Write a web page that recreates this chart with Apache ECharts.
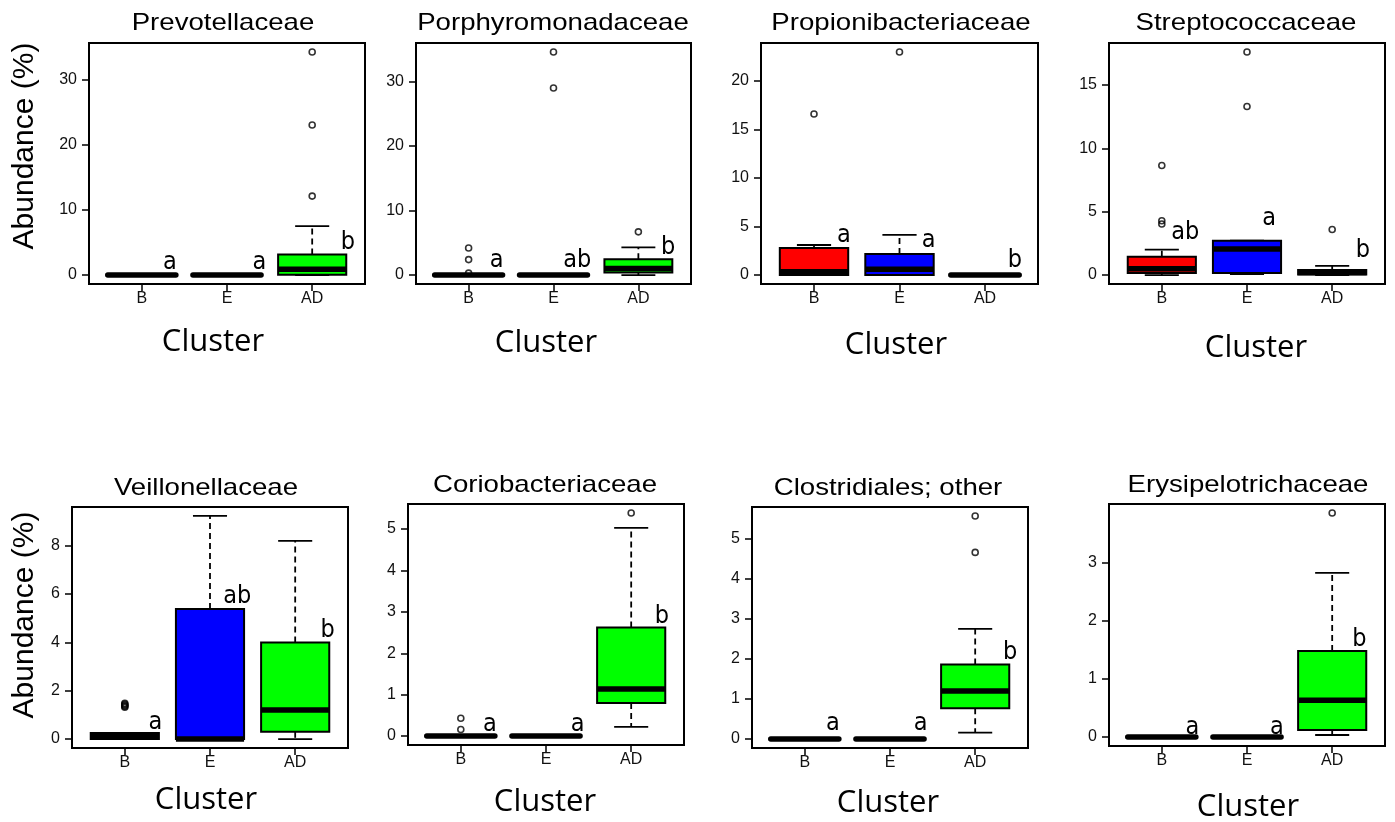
<!DOCTYPE html>
<html>
<head>
<meta charset="utf-8">
<title>Family abundance by cluster</title>
<script src="https://cdn.jsdelivr.net/npm/echarts@6/dist/echarts.min.js"></script>
<style>
  html, body { margin: 0; padding: 0; background: #fff; }
  #chart { width: 1395px; height: 822px; }
</style>
</head>
<body>
<div id="chart"></div>
<script>
// Clusters on the x axis and their box fills
const groups = ['B', 'E', 'AD'];
const boxFill = ['#FF0000', '#0000FF', '#00FF00'];

const families = ['Prevotellaceae', 'Porphyromonadaceae', 'Propionibacteriaceae', 'Streptococcaceae',
                  'Veillonellaceae', 'Coriobacteriaceae', 'Clostridiales; other', 'Erysipelotrichaceae'];

// Box summaries per cluster: [lower whisker, Q1, median, Q3, upper whisker] (abundance, %)
const prevotellaceaeStats = [[0, 0, 0, 0, 0], [0, 0, 0, 0, 0], [0, 0.05, 0.9, 3.15, 7.5]];
const porphyromonadaceaeStats = [[0, 0, 0, 0, 0], [0, 0, 0, 0, 0], [0, 0.4, 1.0, 2.45, 4.3]];
const propionibacteriaceaeStats = [[0, 0, 0.35, 2.8, 3.1], [0, 0, 0.6, 2.17, 4.14], [0, 0, 0, 0, 0]];
const streptococcaceaeStats = [[0, 0.16, 0.5, 1.45, 2.0], [0.08, 0.16, 2.06, 2.71, 2.71], [0, 0.05, 0.2, 0.4, 0.73]];
const veillonellaceaeStats = [[0, 0, 0.1, 0.25, 0.25], [0, 0, 0, 5.38, 9.23], [0, 0.3, 1.2, 3.99, 8.2]];
const coriobacteriaceaeStats = [[0, 0, 0, 0, 0], [0, 0, 0, 0, 0], [0.22, 0.8, 1.14, 2.62, 5.03]];
const clostridialesStats = [[0, 0, 0, 0, 0], [0, 0, 0, 0, 0], [0.16, 0.77, 1.2, 1.86, 2.75]];
const erysipelotrichaceaeStats = [[0, 0, 0, 0, 0], [0, 0, 0, 0, 0], [0.035, 0.12, 0.63, 1.48, 2.82]];

// Points beyond the whiskers, per cluster
const prevotellaceaeOutliers = [[], [], [12.1, 23.0, 34.2]];
const porphyromonadaceaeOutliers = [[0.3, 2.4, 4.2], [29.0, 34.6], [6.7]];
const propionibacteriaceaeOutliers = [[16.6], [23.0], []];
const streptococcaceaeOutliers = [[4.03, 4.29, 8.64], [13.3, 17.6], [3.6]];
const veillonellaceaeOutliers = [[1.32, 1.36, 1.40, 1.44, 1.48], [], []];
const coriobacteriaceaeOutliers = [[0.16, 0.43], [], [5.39]];
const clostridialesOutliers = [[], [], [4.66, 5.57]];
const erysipelotrichaceaeOutliers = [[], [], [3.85]];

// Significance letters and their anchor points [cluster position, abundance]
const prevotellaceaeLetters = ['a', 'a', 'b'];
const porphyromonadaceaeLetters = ['a', 'ab', 'b'];
const propionibacteriaceaeLetters = ['a', 'a', 'b'];
const streptococcaceaeLetters = ['ab', 'a', 'b'];
const veillonellaceaeLetters = ['a', 'ab', 'b'];
const coriobacteriaceaeLetters = ['a', 'a', 'b'];
const clostridialesLetters = ['a', 'a', 'b'];
const erysipelotrichaceaeLetters = ['a', 'a', 'b'];

const prevotellaceaeLetterAt = [[1.33, 1.94], [2.38, 1.94], [3.42, 5.05]];
const porphyromonadaceaeLetterAt = [[1.33, 2.22], [2.28, 2.22], [3.35, 4.29]];
const propionibacteriaceaeLetterAt = [[1.35, 4.07], [2.34, 3.55], [3.35, 1.48]];
const streptococcaceaeLetterAt = [[1.275, 3.37], [2.26, 4.43], [3.36, 1.92]];
const veillonellaceaeLetterAt = [[1.36, 0.69], [2.32, 5.89], [3.38, 4.51]];
const coriobacteriaceaeLetterAt = [[1.34, 0.28], [2.37, 0.28], [3.36, 2.88]];
const clostridialesLetterAt = [[1.33, 0.39], [2.36, 0.39], [3.41, 2.15]];
const erysipelotrichaceaeLetterAt = [[1.36, 0.17], [2.35, 0.17], [3.32, 1.68]];

// Y tick values per panel
const prevotellaceaeTicks = [0, 10, 20, 30];
const porphyromonadaceaeTicks = [0, 10, 20, 30];
const propionibacteriaceaeTicks = [0, 5, 10, 15, 20];
const streptococcaceaeTicks = [0, 5, 10, 15];
const veillonellaceaeTicks = [0, 2, 4, 6, 8];
const coriobacteriaceaeTicks = [0, 1, 2, 3, 4, 5];
const clostridialesTicks = [0, 1, 2, 3, 4, 5];
const erysipelotrichaceaeTicks = [0, 1, 2, 3];

const panels = [
  { stats: prevotellaceaeStats, outliers: prevotellaceaeOutliers, letters: prevotellaceaeLetters, letterAt: prevotellaceaeLetterAt, ticks: prevotellaceaeTicks },
  { stats: porphyromonadaceaeStats, outliers: porphyromonadaceaeOutliers, letters: porphyromonadaceaeLetters, letterAt: porphyromonadaceaeLetterAt, ticks: porphyromonadaceaeTicks },
  { stats: propionibacteriaceaeStats, outliers: propionibacteriaceaeOutliers, letters: propionibacteriaceaeLetters, letterAt: propionibacteriaceaeLetterAt, ticks: propionibacteriaceaeTicks },
  { stats: streptococcaceaeStats, outliers: streptococcaceaeOutliers, letters: streptococcaceaeLetters, letterAt: streptococcaceaeLetterAt, ticks: streptococcaceaeTicks },
  { stats: veillonellaceaeStats, outliers: veillonellaceaeOutliers, letters: veillonellaceaeLetters, letterAt: veillonellaceaeLetterAt, ticks: veillonellaceaeTicks },
  { stats: coriobacteriaceaeStats, outliers: coriobacteriaceaeOutliers, letters: coriobacteriaceaeLetters, letterAt: coriobacteriaceaeLetterAt, ticks: coriobacteriaceaeTicks },
  { stats: clostridialesStats, outliers: clostridialesOutliers, letters: clostridialesLetters, letterAt: clostridialesLetterAt, ticks: clostridialesTicks },
  { stats: erysipelotrichaceaeStats, outliers: erysipelotrichaceaeOutliers, letters: erysipelotrichaceaeLetters, letterAt: erysipelotrichaceaeLetterAt, ticks: erysipelotrichaceaeTicks }
];

// Page layout: plot rectangles [left, top, width, height] and text anchors
const gridRects = [
  [89, 43, 276, 241], [416, 43, 275, 241], [761, 43, 277, 241], [1109, 43, 276, 241],
  [72, 507, 276, 241], [408, 504, 276, 241], [752, 507, 276, 241], [1109, 504, 276, 242]
];
const titleAt = [[223, 23], [553, 23], [901, 23], [1246, 23], [206, 488], [545, 485], [888, 488], [1248, 485]];
const clusterAt = [[213, 342], [546, 343], [896, 345], [1256, 348], [206, 800], [545, 802], [888, 803], [1248, 807]];
const yTitleAt = [[25, 146], [25, 615]];

const BOX_HALF = 0.4;
const CAP_HALF = 0.2;
const FONT = '"Liberation Sans", Arial, Helvetica, sans-serif';

// R-style padded ranges (4% on each side)
function paddedRange(lo, hi) {
  const d = hi - lo;
  return [lo - 0.04 * d, hi + 0.04 * d];
}

function boxRenderer(stats) {
  return function (params, api) {
    const i = params.dataIndex;
    const s = stats[i];
    const lw = s[0], q1 = s[1], med = s[2], q3 = s[3], uw = s[4];
    const x = i + 1;
    const P = (a, b) => api.coord([a, b]);
    const children = [];
    const dashed = { stroke: '#000', lineWidth: 1.8, lineDash: [6, 4], fill: null };
    const solid = { stroke: '#000', lineWidth: 1.8, fill: null };
    const seg = (a, b, style) => ({ type: 'line', shape: { x1: a[0], y1: a[1], x2: b[0], y2: b[1] }, style: style });
    if (uw > q3) children.push(seg(P(x, q3), P(x, uw), dashed));
    if (lw < q1) children.push(seg(P(x, q1), P(x, lw), dashed));
    children.push(seg(P(x - CAP_HALF, uw), P(x + CAP_HALF, uw), solid));
    children.push(seg(P(x - CAP_HALF, lw), P(x + CAP_HALF, lw), solid));
    const tl = P(x - BOX_HALF, q3), br = P(x + BOX_HALF, q1);
    children.push({
      type: 'rect',
      shape: { x: tl[0], y: tl[1], width: br[0] - tl[0], height: br[1] - tl[1] },
      style: { fill: boxFill[i], stroke: '#000', lineWidth: 2 }
    });
    // collapsed boxes show as a bar with rounded ends; otherwise the median stays inside the box
    const collapsed = q3 - q1 <= 0;
    children.push(seg(P(x - BOX_HALF, med), P(x + BOX_HALF, med),
      { stroke: '#000', lineWidth: 5.5, lineCap: collapsed ? 'round' : 'butt', fill: null }));
    return { type: 'group', children: children };
  };
}

function letterRenderer(letters) {
  return function (params, api) {
    const p = api.coord([api.value(0), api.value(1)]);
    return {
      type: 'text',
      x: p[0], y: p[1],
      style: {
        text: letters[params.dataIndex],
        font: '25px "Liberation Sans Narrow", "DejaVu Sans Condensed", "Liberation Sans", sans-serif',
        fill: '#000',
        align: 'center', verticalAlign: 'middle',
        textAlign: 'center', textVerticalAlign: 'middle'
      }
    };
  };
}

const grid = [], xAxis = [], yAxis = [], series = [];
const xRange = paddedRange(0.5, groups.length + 0.5);

panels.forEach((pn, k) => {
  const r = gridRects[k];
  grid.push({
    left: r[0], top: r[1], width: r[2], height: r[3],
    show: true, borderColor: '#000', borderWidth: 2, backgroundColor: 'transparent',
    containLabel: false, outerBoundsMode: 'none'
  });

  const values = [];
  pn.stats.forEach(s => values.push(...s));
  pn.outliers.forEach(o => values.push(...o));
  const yRange = paddedRange(Math.min(...values), Math.max(...values));

  xAxis.push({
    type: 'value', gridIndex: k, min: xRange[0], max: xRange[1], position: 'bottom',
    axisLine: { show: true, onZero: false, lineStyle: { color: '#000', width: 2 } },
    axisTick: { show: true, customValues: [1, 2, 3], length: 7, lineStyle: { color: '#000', width: 1.5 } },
    axisLabel: {
      show: true, customValues: [1, 2, 3], margin: 7,
      formatter: v => groups[Math.round(v) - 1],
      fontFamily: FONT, fontSize: 16, color: '#111'
    },
    splitLine: { show: false }
  });

  yAxis.push({
    type: 'value', gridIndex: k, min: yRange[0], max: yRange[1], position: 'left',
    axisLine: { show: true, onZero: false, lineStyle: { color: '#000', width: 2 } },
    axisTick: { show: true, customValues: pn.ticks, length: 7, lineStyle: { color: '#000', width: 1.5 } },
    axisLabel: { show: true, customValues: pn.ticks, margin: 12, fontFamily: FONT, fontSize: 16, color: '#111' },
    splitLine: { show: false }
  });

  series.push({
    type: 'custom', xAxisIndex: k, yAxisIndex: k, silent: true, clip: false,
    renderItem: boxRenderer(pn.stats),
    data: pn.stats.map((s, i) => [i + 1, s[0], s[4]]),
    encode: { x: 0, y: [1, 2] }
  });

  const pts = [];
  pn.outliers.forEach((o, i) => o.forEach(v => pts.push([i + 1, v])));
  series.push({
    type: 'scatter', xAxisIndex: k, yAxisIndex: k, silent: true,
    symbol: 'circle', symbolSize: 6,
    itemStyle: { color: 'rgba(0,0,0,0)', borderColor: '#000', borderWidth: 1.6 },
    data: pts, z: 5
  });

  series.push({
    type: 'custom', xAxisIndex: k, yAxisIndex: k, silent: true, clip: false,
    renderItem: letterRenderer(pn.letters),
    data: pn.letterAt, z: 6
  });
});

const graphic = [];
families.forEach((name, k) => {
  graphic.push({
    type: 'text', x: titleAt[k][0], y: titleAt[k][1], scaleX: 1.15,
    style: {
      text: name, font: '24px ' + FONT, fill: '#000',
      align: 'center', verticalAlign: 'middle', textAlign: 'center', textVerticalAlign: 'middle'
    }
  });
  graphic.push({
    type: 'text', x: clusterAt[k][0], y: clusterAt[k][1],
    style: {
      text: 'Cluster', font: '31px "Open Sans", "Noto Sans", sans-serif', fill: '#000',
      align: 'center', verticalAlign: 'middle', textAlign: 'center', textVerticalAlign: 'middle'
    }
  });
});
yTitleAt.forEach(p => {
  graphic.push({
    type: 'text', x: p[0], y: p[1], rotation: Math.PI / 2,
    style: {
      text: 'Abundance (%)', font: '30px ' + FONT, fill: '#000',
      align: 'center', verticalAlign: 'middle', textAlign: 'center', textVerticalAlign: 'middle'
    }
  });
});

const chart = echarts.init(document.getElementById('chart'), null, { renderer: 'canvas' });
chart.setOption({
  backgroundColor: '#fff',
  animation: false,
  grid: grid,
  xAxis: xAxis,
  yAxis: yAxis,
  series: series,
  graphic: graphic
});
</script>
</body>
</html>
